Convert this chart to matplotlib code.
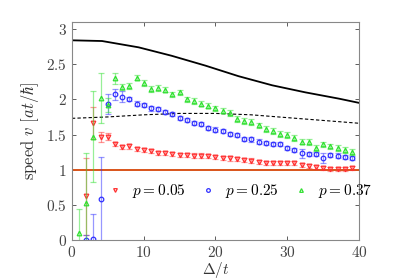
import matplotlib
matplotlib.use('Agg')
import matplotlib.pyplot as plt
import numpy as np

plt.rcParams['mathtext.fontset'] = 'cm'
plt.rcParams['font.family'] = 'DejaVu Serif'

# curves
line_x = [0, 4.2, 9.3, 13.9, 18.6, 23.2, 27.9, 32.5, 37.2, 40]
line_solid = [2.84, 2.83, 2.74, 2.62, 2.48, 2.33, 2.20, 2.10, 2.01, 1.95]
dash_x = [0, 5, 10, 15, 20, 25, 30, 35, 40]
dash_y = [1.73, 1.75, 1.78, 1.80, 1.80, 1.78, 1.74, 1.70, 1.66]

# p = 0.05 (red)
red_x = list(range(2, 40))
red_y = [0.62, 1.66, 1.47, 1.47, 1.37, 1.32, 1.33, 1.29, 1.28, 1.26, 1.24, 1.24, 1.22,
         1.21, 1.21, 1.20, 1.20, 1.19, 1.18, 1.17, 1.16, 1.15, 1.14, 1.13, 1.11, 1.10,
         1.10, 1.10, 1.09, 1.09, 1.07, 1.05, 1.04, 1.02, 1.01, 1.01, 1.01, 1.02]
red_err = [0.55, 0.23, 0.07, 0.05] + [0.03] * 34

# p = 0.25 (blue)
blue_x = list(range(2, 40))
blue_y = [0.0, 0.02, 0.58, 1.93, 2.07, 2.04, 2.01, 1.94, 1.92, 1.87, 1.86, 1.82, 1.79,
          1.74, 1.71, 1.66, 1.65, 1.59, 1.57, 1.55, 1.51, 1.49, 1.44, 1.43, 1.40, 1.38,
          1.36, 1.36, 1.31, 1.28, 1.23, 1.22, 1.22, 1.17, 1.21, 1.20, 1.18, 1.17]
blue_err = [0.07, 0.35, 0.60, 0.14, 0.08, 0.08] + [0.03] * 24 + [0.07, 0.03, 0.03, 0.07] + [0.03] * 4

# p = 0.37 (green)
green_x = list(range(1, 40))
green_y = [0.10, 0.53, 1.47, 2.02, 1.92, 2.30, 2.18, 2.19, 2.31, 2.23, 2.15, 2.16, 2.14,
           2.07, 2.10, 2.00, 1.98, 1.94, 1.91, 1.87, 1.84, 1.81, 1.72, 1.69, 1.68, 1.63,
           1.58, 1.55, 1.51, 1.49, 1.45, 1.40, 1.39, 1.31, 1.36, 1.33, 1.31, 1.28, 1.25]
green_err = [0.34, 0.70, 0.65, 0.35, 0.10, 0.08] + [0.04] * 33

xticks = [0, 10, 20, 30, 40]
yticks = [0, 0.5, 1, 1.5, 2, 2.5, 3]
xtick_labels = [r'$0$', r'$10$', r'$20$', r'$30$', r'$40$']
ytick_labels = [r'$0$', r'$0.5$', r'$1$', r'$1.5$', r'$2$', r'$2.5$', r'$3$']

fig = plt.figure(figsize=(3.95, 2.79), dpi=100)
ax = fig.add_axes([0.182, 0.140, 0.727, 0.781])

ax.plot(line_x, line_solid, color='black', lw=1.3)
ax.plot(dash_x, dash_y, color='black', lw=0.8, ls=(0, (3, 2)))
ax.axhline(1.0, color='#d9541a', lw=1.4)

series = [
    (red_x, red_y, red_err, 'v', '#ff3030', r'$p = 0.05$'),
    (blue_x, blue_y, blue_err, 'o', '#3030ff', r'$p = 0.25$'),
    (green_x, green_y, green_err, '^', '#30e030', r'$p = 0.37$'),
]
handles = []
for xs, ys, es, m, c, lab in series:
    ax.errorbar(xs, ys, yerr=es, fmt='none', ecolor=c, alpha=0.5,
                elinewidth=0.9, capsize=2.2, capthick=0.9)
    h, = ax.plot(xs, ys, ls='none', marker=m, ms=3.3, mfc='none',
                 mec=c, mew=0.9, label=lab)
    handles.append(h)

ax.set_xlim(0, 40)
ax.set_ylim(0, 3.1)
ax.set_xticks(xticks)
ax.set_xticklabels(xtick_labels)
ax.set_yticks(yticks)
ax.set_yticklabels(ytick_labels)
ax.tick_params(direction='in', top=True, right=True, length=3,
               labelsize=11, colors='#444444', width=0.6)
for s in ax.spines.values():
    s.set_color('#888888')
    s.set_linewidth(0.8)

ax.set_xlabel(r'$\Delta/t$', fontsize=11, color='#333333', labelpad=0)
ax.set_ylabel(r'$\mathrm{speed}\ v\ [at/\hbar]$', fontsize=12, color='#333333', labelpad=4)

ax.legend(handles=handles, ncol=3, frameon=False, fontsize=11,
          loc='center', bbox_to_anchor=(0.585, 0.225), handlelength=1.0,
          handletextpad=0.6, columnspacing=0.95, markerscale=0.8)

fig.savefig('out.png', dpi=100)
